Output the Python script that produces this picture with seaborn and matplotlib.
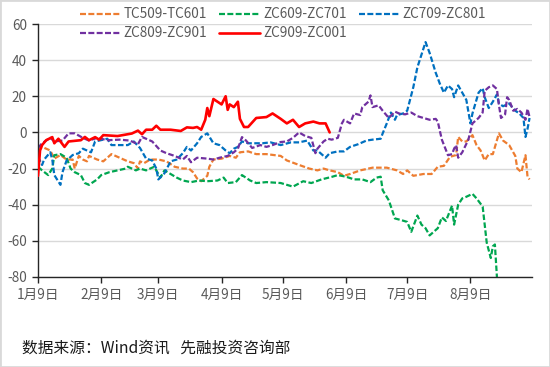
import matplotlib
matplotlib.use("Agg")
import matplotlib.pyplot as plt
from matplotlib.lines import Line2D
from matplotlib.patches import Rectangle
import seaborn as sns
import pandas as pd

YEAR = 2019
series_names = ["TC509-TC601", "ZC609-ZC701", "ZC709-ZC801", "ZC809-ZC901", "ZC909-ZC001"]
colors = ["#ED7D31", "#00A650", "#0070C0", "#7030A0", "#FF0000"]

tc509_dates = ["01-09","01-11","01-15","01-17","01-20","01-23","01-26","01-27","01-29","01-31",
               "02-02","02-03","02-07","02-10","02-14","02-18","02-22","02-25","02-27","02-28",
               "03-02","03-05","03-09","03-13","03-17","03-21","03-24","03-26","03-28","03-30",
               "04-02","04-03","04-05","04-09","04-13","04-16","04-18","04-22","04-26","05-01",
               "05-08","05-11","05-17","05-22","05-26","05-29","06-01","06-05","06-08","06-11",
               "06-16","06-22","06-29","07-04","07-07","07-09","07-12","07-17","07-21","07-24",
               "07-27","07-30","08-02","08-03","08-05","08-07","08-10","08-12","08-14","08-16",
               "08-18","08-20","08-22","08-23","08-25","08-28","08-31","09-01","09-03","09-05",
               "09-06","09-07"]
tc509_vals = [-10,-8,-10,-14.5,-12.5,-15,-15,-20,-13,-15,
              -16,-13,-15,-16,-12,-14,-16,-17,-20,-16,
              -17,-15,-15,-16,-19,-20,-20,-22,-25.5,-27,
              -24,-19,-15,-14.5,-13,-14,-11,-10.5,-12,-12,
              -13,-15.5,-18,-20,-21,-20,-21,-22,-24,-23,
              -21,-19.5,-19.5,-21,-23,-21,-24,-23,-23,-19,
              -18.5,-13.5,-12.5,-2.5,-5,-5,-1.5,-7,-10,-15.5,
              -12,-12,-4.3,-0.5,-4.5,-7,-13,-20,-22,-12.6,
              -24.5,-26]

zc609_dates = ["01-09","01-11","01-14","01-16","01-17","01-20","01-23","01-25","01-27","01-30",
               "02-01","02-03","02-07","02-09","02-13","02-17","02-21","02-22","02-26","02-28",
               "03-03","03-07","03-10","03-12","03-15","03-18","03-21","03-25","03-29","04-02",
               "04-07","04-10","04-12","04-16","04-19","04-23","04-26","05-01","05-08","05-14",
               "05-19","05-23","05-28","06-02","06-05","06-09","06-13","06-17","06-21","06-24",
               "06-26","06-27","06-30","07-03","07-06","07-09","07-11","07-14","07-16","07-18",
               "07-20","07-24","07-26","07-28","07-31","08-01","08-03","08-05","08-07","08-10",
               "08-12","08-15","08-17","08-19","08-20","08-21","08-22"]
zc609_vals = [-19,-21,-23.6,-20,-12.6,-12,-14,-20,-22,-23.6,
              -28,-29,-26,-23.6,-22,-21,-20,-19,-21,-20,
              -21,-19,-25,-21,-23,-25,-26.6,-27.5,-26.6,-27,
              -26.6,-25,-28,-27.5,-23.6,-26.6,-28,-27.5,-28,-30,
              -27,-28,-26,-24.6,-23.6,-24.5,-26,-26,-27.5,-25,
              -24.5,-32,-37.6,-47.6,-48.5,-49.5,-55,-46,-51,-53,
              -57,-53,-47,-49,-40.5,-51,-40,-36.5,-35.6,-34,
              -36.5,-41,-61,-69.5,-63,-62,-80]

zc709_dates = ["01-09","01-11","01-12","01-15","01-16","01-17","01-20","01-21","01-23","01-26",
               "01-29","01-31","02-04","02-06","02-08","02-12","02-14","02-22","02-25","02-28",
               "03-03","03-06","03-08","03-09","03-12","03-15","03-18","03-21","03-23","03-25",
               "03-28","03-30","04-02","04-05","04-08","04-11","04-13","04-15","04-17","04-19",
               "04-22","04-26","04-29","05-03","05-08","05-13","05-17","05-21","05-24","05-26",
               "05-30","06-01","06-05","06-08","06-11","06-15","06-19","06-22","06-26","06-27",
               "06-29","07-01","07-03","07-04","07-07","07-09","07-12","07-14","07-18","07-20",
               "07-23","07-25","07-27","07-29","07-31","08-01","08-03","08-05","08-07","08-09",
               "08-10","08-13","08-15","08-16","08-18","08-20","08-22","08-23","08-25","08-28",
               "08-31","09-02","09-04","09-05","09-06","09-07"]
zc709_vals = [-13.5,-18,-15,-11,-15,-23.6,-29,-22,-15.6,-12.5,
              -11.5,-9,-11,-5,-4.5,-3.5,-7,-7,-5,-8.6,
              -14.5,-15.5,-20,-26,-22.6,-16,-15,-11.5,-8,-10,
              -6,-2.5,-0.5,-6,-7,-10,-11.5,-9,-8,-5,
              -6,-6,-6,-5.5,-7,-5.5,-5.5,-4.5,-10,-10,
              -14,-11.5,-10.5,-10.5,-8,-6.5,-4.5,-4,-3.5,-0.5,
              5,11,7,9.6,10.5,12,25,36,50,44,
              33,27,22,26,24,19.5,26,22,18,5,
              10.5,22,24.5,19.5,13.5,17,21,16,14.5,16,
              12,10.5,8,-2.5,2,8]

zc809_dates = ["01-09","01-11","01-15","01-17","01-21","01-24","01-27","01-31","02-03","02-07",
               "02-12","02-18","02-23","02-27","03-01","03-06","03-10","03-13","03-17","03-21",
               "03-23","03-25","03-28","04-02","04-05","04-08","04-12","04-15","04-17","04-19",
               "04-21","04-24","04-28","05-01","05-04","05-08","05-11","05-14","05-17","05-20",
               "05-23","05-25","05-26","05-29","05-31","06-02","06-05","06-07","06-08","06-11",
               "06-13","06-16","06-17","06-20","06-21","06-22","06-25","06-27","06-30","07-03",
               "07-05","07-08","07-11","07-14","07-17","07-20","07-23","07-24","07-26","07-29",
               "07-31","08-01","08-02","08-03","08-05","08-08","08-10","08-13","08-15","08-16",
               "08-18","08-20","08-22","08-23","08-24","08-26","08-27","08-28","08-30","09-01",
               "09-03","09-05","09-06","09-07"]
zc809_vals = [-8.6,-6,-3,-5,-4.5,-0.5,-0.5,-3,-4.5,-3,
              -4.3,-4,-4.5,-6.5,-2.5,-5,-10,-11.5,-13,-15,
              -13,-16.5,-14,-14.5,-15,-14,-13,-11,-9,-2.6,
              -4.5,-8.6,-7,-8,-7,-5.3,-5,-3,0,-2,
              -3,-11.5,-9,-5,-3.5,-4,-3,5,7,5,
              10.5,9.6,14,17,20.5,14,15,12,8,11.5,
              10.5,10,11,9,8,7,7.5,6,-4,-12.6,
              -12,-9,-7,-14,-11,-4,5,8,11,23,
              25,26,24,15,8,10,19.5,18,12,13,
              11,7,13,8.5]

zc909_dates = ["01-09","01-10","01-11","01-13","01-16","01-17","01-19","01-22","01-24","01-30",
               "02-01","02-03","02-06","02-08","02-10","02-17","02-24","02-27","03-01","03-03",
               "03-06","03-08","03-10","03-15","03-20","03-23","03-26","03-28","03-30","04-01",
               "04-02","04-03","04-05","04-09","04-11","04-12","04-13","04-15","04-17","04-18",
               "04-20","04-22","04-26","05-01","05-04","05-08","05-11","05-14","05-17","05-20",
               "05-24","05-27","05-30","06-01"]
zc909_vals = [-24,-10,-7,-4.3,-2.6,-6,-3.5,-8,-5,-4.3,
              -2.5,-4.3,-2.6,-4,-1.5,-2,-0.6,1,-1,1.5,
              1.5,3.7,1.5,1.5,0.8,2.8,2.5,3,1.5,7,
              13.5,9,18.5,15.5,20,12.5,15.5,14,17,7.5,
              3,3,8,8.5,10.5,7.5,5,7,3,5,
              6,5,5,0]

tick_dates = ["01-09","02-09","03-09","04-09","05-09","06-09","07-09","08-09"]
tick_labels = ["1月9日","2月9日","3月9日","4月9日","5月9日","6月9日","7月9日","8月9日"]
y_ticks = [-80, -60, -40, -20, 0, 20, 40, 60]
source_text = "数据来源：Wind资讯   先融投资咨询部"

all_dates = [tc509_dates, zc609_dates, zc709_dates, zc809_dates, zc909_dates]
all_vals = [tc509_vals, zc609_vals, zc709_vals, zc809_vals, zc909_vals]

frames = []
for name, d, v in zip(series_names, all_dates, all_vals):
    f = pd.DataFrame({"date": pd.to_datetime([f"{YEAR}-{s}" for s in d]), "value": v})
    f["series"] = name
    frames.append(f)
df = pd.concat(frames, ignore_index=True)


def to_dt(s):
    return pd.Timestamp(f"{YEAR}-{s}")


sns.set_theme(style="white")
plt.rcParams["font.family"] = ["Noto Sans CJK SC", "DejaVu Sans"]
plt.rcParams["axes.unicode_minus"] = False

fig = plt.figure(figsize=(5.5, 3.67), dpi=100)
ax = fig.add_axes([38 / 550, 1 - 277 / 367, (531.6 - 38) / 550, (277 - 24) / 367])

dash = (2.5, 1.1)
palette = dict(zip(series_names, colors))
dashes = {n: (dash if n != "ZC909-ZC001" else "") for n in series_names}

sns.lineplot(data=df, x="date", y="value", hue="series", style="series",
             hue_order=series_names, style_order=series_names,
             palette=palette, dashes=dashes, linewidth=1.6, legend=False,
             ax=ax, sort=False, estimator=None)

for ln in ax.lines:
    if matplotlib.colors.to_hex(ln.get_color()).lower() == "#ff0000":
        ln.set_linewidth(1.9)
        ln.set_zorder(5)

ax.set_ylim(-80, 60)
ax.set_yticks(y_ticks)
ax.set_yticklabels([str(t) for t in y_ticks])
ax.set_xlim(to_dt("01-09"), to_dt("09-08"))
ax.set_xticks([to_dt(s) for s in tick_dates])
ax.set_xticklabels(tick_labels)
ax.set_xlabel("")
ax.set_ylabel("")

ax.yaxis.grid(True, color="#d9d9d9", linewidth=1)
ax.xaxis.grid(False)
ax.set_axisbelow(True)
for side in ["top", "right"]:
    ax.spines[side].set_visible(False)
for side in ["left", "bottom"]:
    ax.spines[side].set_color("#262626")
    ax.spines[side].set_linewidth(1)
ax.tick_params(axis="both", which="major", bottom=True, left=True, direction="out",
               length=4, width=1, color="#262626", labelcolor="#595959", labelsize=9.8)
ax.tick_params(axis="x", pad=4)
ax.tick_params(axis="y", pad=4)

handles = []
for n, c in zip(series_names, colors):
    if n == "ZC909-ZC001":
        handles.append(Line2D([], [], color=c, lw=1.9, linestyle="-"))
    else:
        handles.append(Line2D([], [], color=c, lw=1.6, linestyle=(0, (2.7, 1.05))))
order = [0, 3, 1, 4, 2]
fig.legend([handles[i] for i in order], [series_names[i] for i in order],
           loc="upper left", bbox_to_anchor=(80 / 550, 1 - 7.5 / 367), ncol=3,
           frameon=False, fontsize=9.8, handlelength=3.0, handletextpad=0.2,
           columnspacing=0.9, labelspacing=0.35, borderpad=0, borderaxespad=0,
           labelcolor="#595959")

fig.text(22 / 550, 1 - 348 / 367, source_text, fontsize=11.3, color="#1a1a1a",
         va="center", ha="left")

fig.patches.append(Rectangle((0, 0), 1, 1, transform=fig.transFigure, fill=False,
                             edgecolor="#d9d9d9", linewidth=2))

fig.savefig("out.png", dpi=100)
